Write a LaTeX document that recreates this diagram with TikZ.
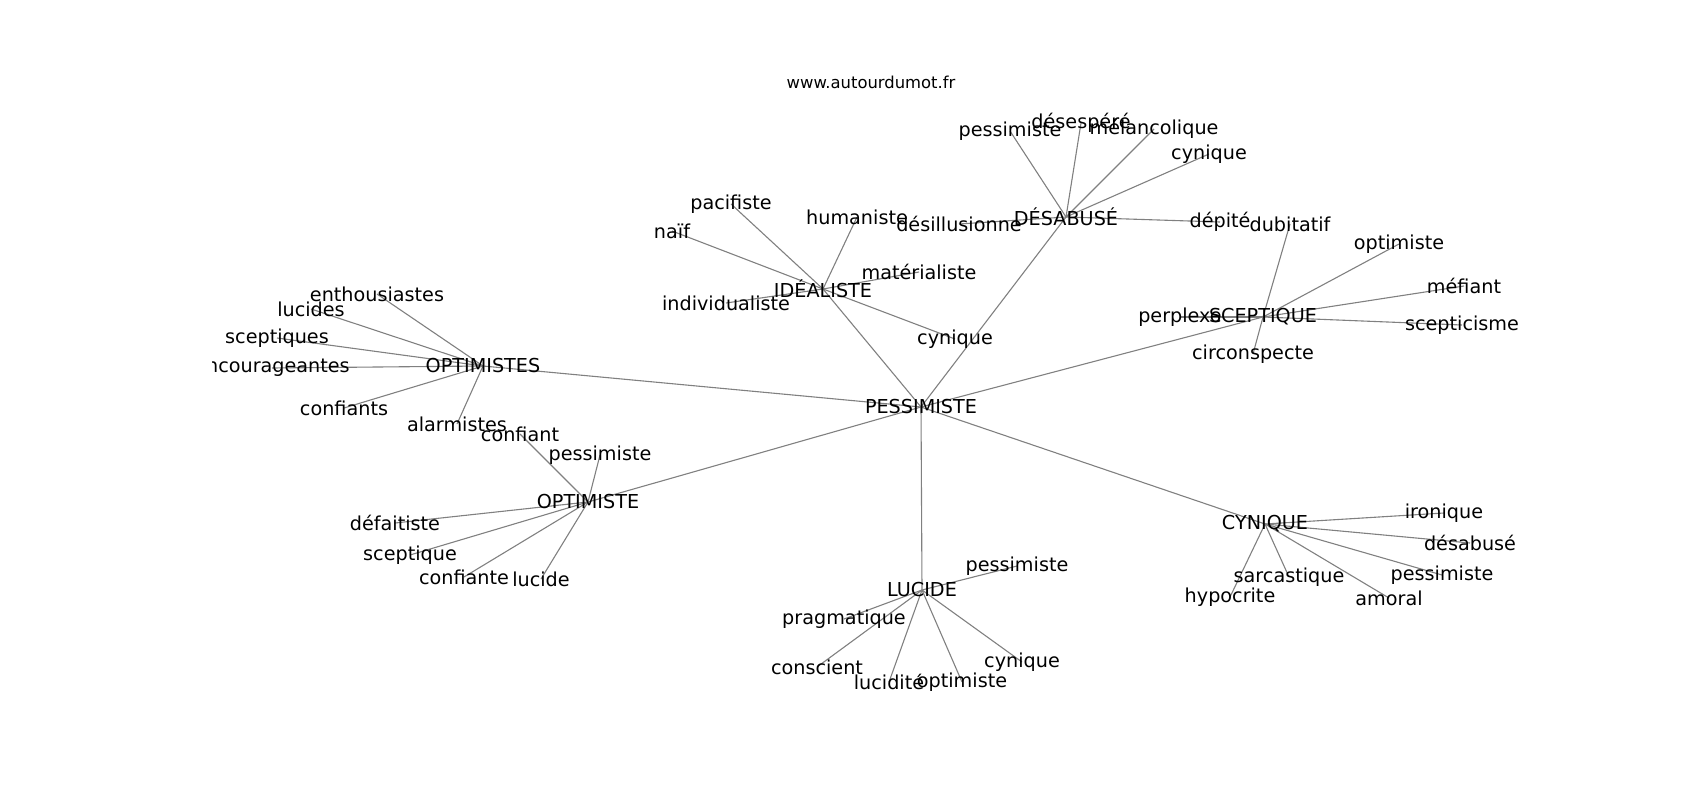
\documentclass[tikz,border=0pt]{standalone}
\usepackage{fontspec}
\setmainfont{DejaVu Sans}
\pgfdeclarelayer{bg}
\pgfsetlayers{bg,main}
\begin{document}
\begin{tikzpicture}[x=1pt,y=-1pt,
  lbl/.style={inner sep=0pt, font=\fontsize{19.2}{22}\selectfont, text=black},
  ttl/.style={inner sep=0pt, font=\fontsize{16.4}{19}\selectfont, text=black},
  edge/.style={draw={rgb,255:red,128;green,128;blue,128}, line width=1.1pt}]
\useasboundingbox (0,0) rectangle (1700,800);
\node[ttl] (title) at (871,82) {www.autourdumot.fr};
\begin{scope}
\clip (212.5,96) rectangle (1530,712);
% hubs
\node[lbl] (pess) at (921,407) {PESSIMISTE};
\node[lbl] (opts) at (483,366) {OPTIMISTES};
\node[lbl] (idea) at (823,289) {IDÉALISTE};
\node[lbl] (cyc) at (955,339) {cynique};
\node[lbl] (desa) at (1066,217) {DÉSABUSÉ};
\node[lbl] (scep) at (1263,317) {SCEPTIQUE};
\node[lbl] (cyn) at (1265,524) {CYNIQUE};
\node[lbl] (luc) at (922,590) {LUCIDE};
\node[lbl] (opt) at (588,502) {OPTIMISTE};
% OPTIMISTES
\node[lbl] (ent) at (377,294) {enthousiastes};
\node[lbl] (lucs) at (311,309) {lucides};
\node[lbl] (sceps) at (277,338) {sceptiques};
\node[lbl] (enc) at (272,368) {encourageantes};
\node[lbl] (confs) at (344,408) {confiants};
\node[lbl] (alar) at (457,424) {alarmistes};
% IDEALISTE
\node[lbl] (paci) at (731,204) {pacifiste};
\node[lbl] (naif) at (672,231) {naïf};
\node[lbl] (huma) at (857,217) {humaniste};
\node[lbl] (mate) at (919,272) {matérialiste};
\node[lbl] (indi) at (726,303) {individualiste};
% DESABUSE
\node[lbl] (dpes) at (1010,131) {pessimiste};
\node[lbl] (dese) at (1081,123) {désespéré};
\node[lbl] (mela) at (1154,129) {mélancolique};
\node[lbl] (dcyn) at (1209,154) {cynique};
\node[lbl] (desi) at (959,224) {désillusionne};
\node[lbl] (depi) at (1220,222) {dépité};
% SCEPTIQUE
\node[lbl] (dubi) at (1290,224) {dubitatif};
\node[lbl] (sopt) at (1399,244) {optimiste};
\node[lbl] (mefi) at (1464,286) {méfiant};
\node[lbl] (ssce) at (1462,325) {scepticisme};
\node[lbl] (circ) at (1253,354) {circonspecte};
\node[lbl] (perp) at (1180,317) {perplexe};
% OPTIMISTE
\node[lbl] (conf) at (520,434) {confiant};
\node[lbl] (opes) at (600,455) {pessimiste};
\node[lbl] (defa) at (395,523) {défaitiste};
\node[lbl] (osce) at (410,555) {sceptique};
\node[lbl] (confe) at (464,577) {confiante};
\node[lbl] (oluc) at (541,579) {lucide};
% LUCIDE
\node[lbl] (lpes) at (1017,566) {pessimiste};
\node[lbl] (prag) at (844,619) {pragmatique};
\node[lbl] (cons) at (817,667) {conscient};
\node[lbl] (lucd) at (889,682) {lucidité};
\node[lbl] (lopt) at (962,682) {optimiste};
\node[lbl] (lcyn) at (1022,662) {cynique};
% CYNIQUE
\node[lbl] (iron) at (1444,513) {ironique};
\node[lbl] (cdes) at (1470,543) {désabusé};
\node[lbl] (cpes) at (1442,575) {pessimiste};
\node[lbl] (amor) at (1389,598) {amoral};
\node[lbl] (sarc) at (1289,577) {sarcastique};
\node[lbl] (hypo) at (1230,597) {hypocrite};
\end{scope}
\begin{pgfonlayer}{bg}
\foreach \a/\b in {pess/opts,pess/idea,pess/desa,pess/scep,pess/cyn,pess/luc,pess/opt,
  idea/cyc,
  opts/ent,opts/lucs,opts/sceps,opts/enc,opts/confs,opts/alar,
  idea/paci,idea/naif,idea/huma,idea/mate,idea/indi,
  desa/dpes,desa/dese,desa/mela,desa/dcyn,desa/desi,desa/depi,
  scep/dubi,scep/sopt,scep/mefi,scep/ssce,scep/circ,scep/perp,
  opt/conf,opt/opes,opt/defa,opt/osce,opt/confe,opt/oluc,
  luc/lpes,luc/prag,luc/cons,luc/lucd,luc/lopt,luc/lcyn,
  cyn/iron,cyn/cdes,cyn/cpes,cyn/amor,cyn/sarc,cyn/hypo}
  {\draw[edge] (\a.center) -- (\b.center);}
\end{pgfonlayer}
\end{tikzpicture}
\end{document}
